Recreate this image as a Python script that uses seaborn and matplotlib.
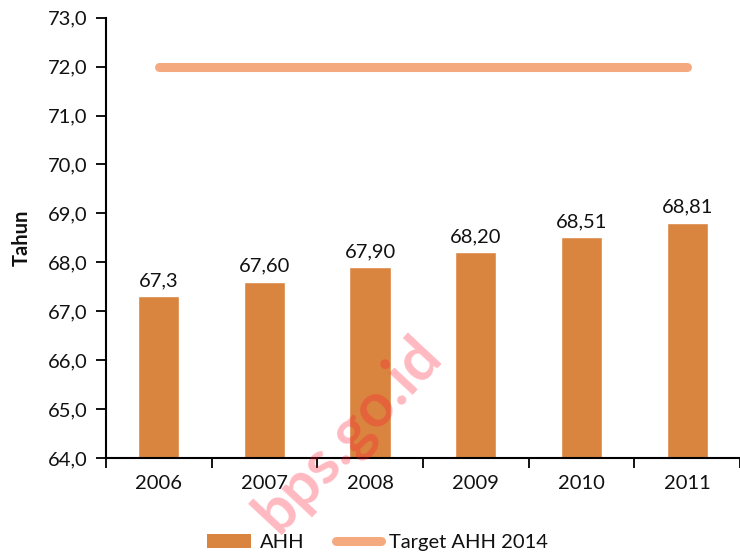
import matplotlib
matplotlib.use("Agg")
import matplotlib.pyplot as plt
import seaborn as sns
import numpy as np
import pandas as pd
from matplotlib.patches import Patch
from matplotlib.lines import Line2D

# Angka harapan hidup (AHH) per tahun dan target 2014
years = ["2006", "2007", "2008", "2009", "2010", "2011"]
ahh = [67.3, 67.60, 67.90, 68.20, 68.51, 68.81]
ahh_labels = ["67,3", "67,60", "67,90", "68,20", "68,51", "68,81"]
target = [72.0, 72.0, 72.0, 72.0, 72.0, 72.0]
yticks = [64.0, 65.0, 66.0, 67.0, 68.0, 69.0, 70.0, 71.0, 72.0, 73.0]

sns.set_theme(style="white")
plt.rcParams["font.family"] = ["Lato", "DejaVu Sans"]

bar_color = "#D9853F"
line_color = "#F4A97E"

df = pd.DataFrame({"Tahun": years, "AHH": ahh})

fig = plt.figure(figsize=(7.4, 5.53), dpi=100)
ax = fig.add_axes([0.143, 0.172, 0.857, 0.796])

sns.barplot(data=df, x="Tahun", y="AHH", color=bar_color, saturation=1,
            width=0.39, ax=ax, zorder=2)
sns.lineplot(x=np.arange(len(years)), y=target, color=line_color, lw=6.5,
             ax=ax, solid_capstyle="round", zorder=3)

# bars start at the bottom of the value axis
for p, v in zip(ax.patches, ahh):
    p.set_y(64.0)
    p.set_height(v - 64.0)

for i, (v, lab) in enumerate(zip(ahh, ahh_labels)):
    ax.annotate(lab, (i, v), xytext=(0, 5), textcoords="offset points",
                ha="center", va="bottom", fontsize=14.5, color="#111111")

ax.set_ylim(64.0, 73.0)
ax.set_yticks(yticks)
ax.set_yticklabels([f"{t:.1f}".replace(".", ",") for t in yticks])
ax.set_xlim(-0.5, 5.5)
ax.set_xticks(np.arange(-0.5, 6.0, 1.0), minor=False)
ax.set_xticklabels([])
ax.set_xticks(np.arange(len(years)), minor=True)
ax.set_xticklabels(years, minor=True)
ax.tick_params(axis="x", which="minor", length=0, pad=12, labelsize=14.5,
               labelcolor="#111111")
ax.tick_params(axis="x", which="major", direction="out", length=7, width=1.3,
               color="black", bottom=True)
ax.tick_params(axis="y", direction="out", length=7, width=1.3, color="black",
               left=True, labelsize=14.5, pad=6, labelcolor="#111111")
ax.set_xlabel("")
ax.set_ylabel("Tahun", fontsize=14.5, fontweight="bold", labelpad=12,
              color="#111111")

for s in ["top", "right"]:
    ax.spines[s].set_visible(False)
for s in ["left", "bottom"]:
    ax.spines[s].set_color("black")
    ax.spines[s].set_linewidth(1.5)

handles = [Patch(facecolor=bar_color, edgecolor="none"),
           Line2D([0], [0], color=line_color, lw=6.5, solid_capstyle="round")]
fig.legend(handles, ["AHH", "Target AHH 2014"], loc="lower center",
           bbox_to_anchor=(0.51, -0.03), ncol=2, frameon=False,
           fontsize=14.5, handlelength=2.2, handletextpad=0.4,
           columnspacing=1.6, labelcolor="#111111")

# watermark
fig.text(0.47, 0.215, "bps.go.id", rotation=47, ha="center", va="center",
         fontsize=44, fontweight="bold", color="#FF1530", alpha=0.3,
         family=["Lato", "DejaVu Sans"], zorder=10)

fig.savefig("out.png", dpi=100)
